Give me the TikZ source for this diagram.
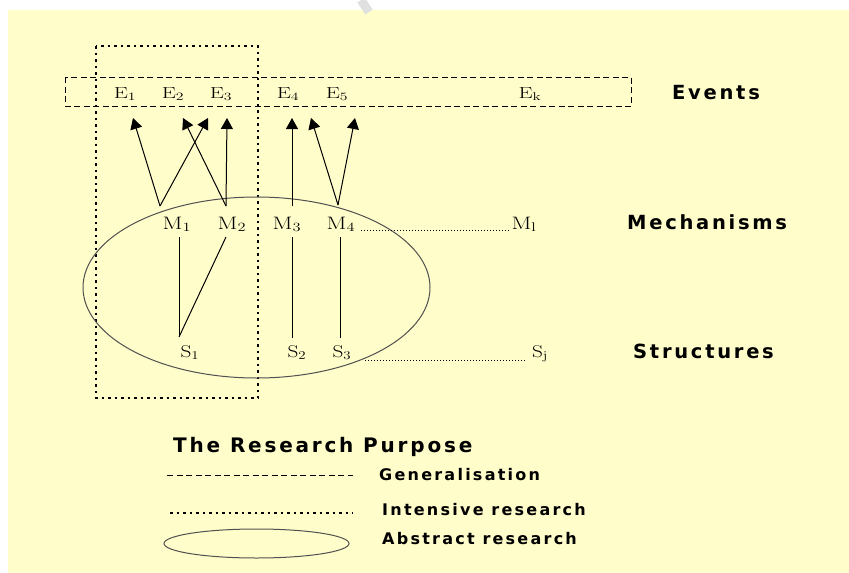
\documentclass[tikz,border=0pt]{standalone}
\usepackage{fontspec}
\usetikzlibrary{arrows.meta}
\newfontfamily\labfont[LetterSpace=14]{DejaVu Sans}
\definecolor{bgyellow}{HTML}{FFFDCA}
\definecolor{ellgray}{HTML}{505050}
\newcommand{\widetxt}[2]{\scalebox{#1}[1]{#2}}
\begin{document}
\begin{tikzpicture}[x=1pt,y=-1pt,
  elbl/.style={font=\fontsize{16}{16}\selectfont, inner sep=0pt, anchor=base},
  mlbl/.style={font=\fontsize{18}{18}\selectfont, inner sep=0pt, anchor=base},
  slbl/.style={font=\fontsize{17}{17}\selectfont, inner sep=0pt, anchor=base},
  cat/.style={font=\labfont\bfseries\fontsize{19.5}{19.5}\selectfont, inner sep=0pt, anchor=base west},
  title/.style={font=\labfont\bfseries\fontsize{20}{20}\selectfont, inner sep=0pt, anchor=base west},
  legtxt/.style={font=\labfont\bfseries\fontsize{16}{16}\selectfont, inner sep=0pt, anchor=base west},
  arr/.style={-{Triangle[width=12pt,length=11pt]}, line width=1pt},
  conn/.style={line width=1pt},
  fine/.style={line width=0.8pt, dash pattern=on 1pt off 2pt},
  intensive/.style={line width=2.5pt, dash pattern=on 2.5pt off 4pt},
  gen/.style={line width=0.9pt, dash pattern=on 6pt off 3.5pt},
  abstr/.style={draw=ellgray, line width=1pt}]
\useasboundingbox (0,0) rectangle (849,573);
\fill[bgyellow] (8,10) rectangle (849,573);
\draw[line width=9pt, color=black!12] (361,0) -- (369,12);

% Events box and intensive box
\draw[gen] (65,77) rectangle (631,106);
\draw[intensive] (96,46) rectangle (258,398);
\draw[abstr] (256.5,287.5) ellipse [x radius=173.5, y radius=90.5];

% labels
\node[elbl] (e1) at (125,98) {\widetxt{1.4}{E$_{\mathrm{1}}$}};
\node[elbl] (e2) at (173,98) {\widetxt{1.4}{E$_{\mathrm{2}}$}};
\node[elbl] (e3) at (221,98) {\widetxt{1.4}{E$_{\mathrm{3}}$}};
\node[elbl] (e4) at (288,98) {\widetxt{1.4}{E$_{\mathrm{4}}$}};
\node[elbl] (e5) at (337,98) {\widetxt{1.4}{E$_{\mathrm{5}}$}};
\node[elbl] (ek) at (530,98) {\widetxt{1.4}{E$_{\mathrm{k}}$}};
\node[mlbl] (m1) at (177,229) {\widetxt{1.3}{M$_{\mathrm{1}}$}};
\node[mlbl] (m2) at (232,229) {\widetxt{1.3}{M$_{\mathrm{2}}$}};
\node[mlbl] (m3) at (287,229) {\widetxt{1.3}{M$_{\mathrm{3}}$}};
\node[mlbl] (m4) at (341,229) {\widetxt{1.3}{M$_{\mathrm{4}}$}};
\node[mlbl] (ml) at (524,229) {\widetxt{1.3}{M$_{\mathrm{l}}$}};
\node[slbl] (s1) at (190,357) {\widetxt{1.25}{S$_{\mathrm{1}}$}};
\node[slbl] (s2) at (297,357) {\widetxt{1.25}{S$_{\mathrm{2}}$}};
\node[slbl] (s3) at (342,357) {\widetxt{1.25}{S$_{\mathrm{3}}$}};
\node[slbl] (sj) at (540,357) {\widetxt{1.25}{S$_{\mathrm{j}}$}};

% coordinates
\coordinate (a1) at (160,206);
\coordinate (a2) at (226,206);
\coordinate (a3) at (292,206);
\coordinate (a4) at (338,205);
\coordinate (t1) at (133,118);
\coordinate (t2) at (183,118);
\coordinate (t3) at (208,118);
\coordinate (t4) at (227,118);
\coordinate (t5) at (292,118);
\coordinate (t6) at (311,118);
\coordinate (t7) at (355,118);
\draw[arr] (a1) -- (t1);
\draw[arr] (a1) -- (t3);
\draw[arr] (a2) -- (t2);
\draw[arr] (a2) -- (t4);
\draw[arr] (a3) -- (t5);
\draw[arr] (a4) -- (t6);
\draw[arr] (a4) -- (t7);

\coordinate (b1) at (179,237);
\coordinate (b2) at (226,237);
\coordinate (b3) at (292,237);
\coordinate (b4) at (340,237);
\coordinate (c1) at (179,337);
\coordinate (c3) at (292,338);
\coordinate (c4) at (340,338);
\draw[conn] (b1) -- (c1);
\draw[conn] (b2) -- (c1);
\draw[conn] (b3) -- (c3);
\draw[conn] (b4) -- (c4);

\coordinate (d1) at (361,230);
\coordinate (d2) at (509,230);
\coordinate (d3) at (365,360);
\coordinate (d4) at (526,360);
\draw[fine] (d1) -- (d2);
\draw[fine] (d3) -- (d4);

% category labels
\node[cat] (ev) at (672,99) {Events};
\node[cat] (me) at (627,229) {Mechanisms};
\node[cat] (st) at (633,358) {Structures};

% legend
\node[title] (rp) at (173,452) {The Research Purpose};
\coordinate (g1) at (167,475);
\coordinate (g2) at (353,475);
\draw[gen] (g1) -- (g2);
\node[legtxt] (gl) at (379,480) {Generalisation};
\coordinate (i1) at (170,513);
\coordinate (i2) at (353,513);
\draw[intensive] (i1) -- (i2);
\node[legtxt] (il) at (382,515) {Intensive research};
\draw[abstr] (256.5,543.5) ellipse [x radius=92.5, y radius=14.5];
\node[legtxt] (al) at (382,544) {Abstract research};
\end{tikzpicture}
\end{document}
